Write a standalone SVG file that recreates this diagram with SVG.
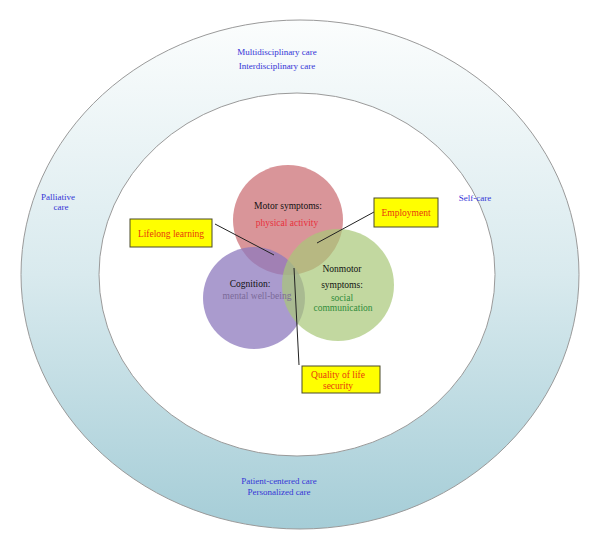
<svg xmlns="http://www.w3.org/2000/svg" width="600" height="550" viewBox="0 0 600 550">
<style>
text{font-family:"Liberation Serif","Times New Roman",serif;text-anchor:middle}
.blue{fill:#3434d6;font-size:9px}
.lbl{fill:#111;font-size:9.5px}
.box{fill:#ffff00;stroke:#4a4a2a;stroke-width:1}
.boxt{fill:#e8380d;font-size:9.5px}
.conn{stroke:#222;stroke-width:1;fill:none}
</style>
<defs>
<linearGradient id="ring" x1="0" y1="0" x2="0" y2="1">
<stop offset="0" stop-color="#fbfdfd"/>
<stop offset="0.5" stop-color="#d9eaee"/>
<stop offset="1" stop-color="#a5cdd7"/>
</linearGradient>
</defs>
<rect width="600" height="550" fill="#ffffff"/>
<g id="outer-ring">
<ellipse cx="300" cy="274.5" rx="279" ry="254.5" fill="url(#ring)" stroke="#9a9a9a" stroke-width="1"/>
<ellipse cx="297" cy="274.5" rx="198" ry="181.5" fill="#ffffff" stroke="#9a9a9a" stroke-width="1"/>
<text class="blue" x="277" y="55">Multidisciplinary care</text>
<text class="blue" x="277" y="69">Interdisciplinary care</text>
<text class="blue" x="58" y="200">Palliative</text>
<text class="blue" x="61" y="209.5">care</text>
<text class="blue" x="475" y="201">Self-care</text>
<text class="blue" x="279" y="484">Patient-centered care</text>
<text class="blue" x="279" y="495">Personalized care</text>
</g>
<g id="motor">
<circle cx="288" cy="220" r="55" fill="#cf7a80" fill-opacity="0.8"/>
</g>
<g id="cognition">
<circle cx="254" cy="298" r="51" fill="#8e79bd" fill-opacity="0.75"/>
</g>
<g id="nonmotor">
<circle cx="338" cy="285" r="56" fill="#a8c877" fill-opacity="0.7"/>
</g>
<g id="circle-labels">
<text class="lbl" x="288" y="209">Motor symptoms:</text>
<text x="287" y="226" style="fill:#e8303c;font-size:9.5px">physical activity</text>
<text class="lbl" x="250" y="287">Cognition:</text>
<text x="257" y="299" style="fill:#7b6a98;font-size:9.5px">mental well-being</text>
<text class="lbl" x="342" y="272">Nonmotor</text>
<text class="lbl" x="342" y="288">symptoms:</text>
<text x="342" y="301" style="fill:#2f8c3a;font-size:9.5px">social</text>
<text x="343" y="311" style="fill:#2f8c3a;font-size:9.5px">communication</text>
</g>
<g id="connectors">
<line class="conn" x1="215" y1="224" x2="274" y2="255"/>
<line class="conn" x1="374" y1="212" x2="317" y2="243"/>
<line class="conn" x1="294" y1="268" x2="299" y2="365"/>
</g>
<g id="lifelong">
<rect class="box" x="130" y="219" width="82" height="28"/>
<text class="boxt" x="171" y="237">Lifelong learning</text>
</g>
<g id="employment">
<rect class="box" x="374" y="198" width="64" height="29"/>
<text class="boxt" x="406" y="216">Employment</text>
</g>
<g id="quality">
<rect class="box" x="302" y="366" width="78" height="27"/>
<text class="boxt" x="338" y="378">Quality of life</text>
<text class="boxt" x="338" y="389">security</text>
</g>
</svg>
